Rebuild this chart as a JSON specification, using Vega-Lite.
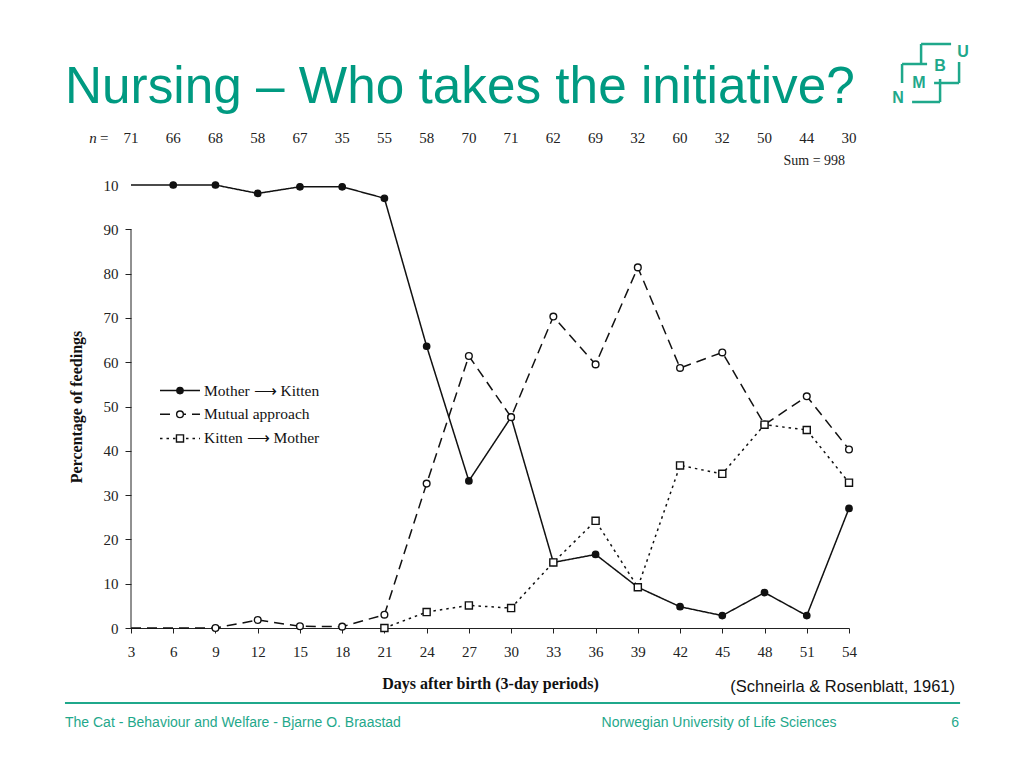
{
  "$schema": "https://vega.github.io/schema/vega-lite/v6.json",
  "width": 718,
  "height": 443,
  "autosize": {"type": "none"},
  "padding": {"left": 131, "top": 185, "right": 175, "bottom": 140},
  "background": "white",
  "config": {"view": {"stroke": null}},
  "datasets": {
    "feedings": [
      {"series": "Mother → Kitten", "day": 3, "pct": 100},
      {"series": "Mother → Kitten", "day": 6, "pct": 100},
      {"series": "Mother → Kitten", "day": 9, "pct": 100},
      {"series": "Mother → Kitten", "day": 12, "pct": 98.1},
      {"series": "Mother → Kitten", "day": 15, "pct": 99.6},
      {"series": "Mother → Kitten", "day": 18, "pct": 99.6},
      {"series": "Mother → Kitten", "day": 21, "pct": 97.0},
      {"series": "Mother → Kitten", "day": 24, "pct": 63.6},
      {"series": "Mother → Kitten", "day": 27, "pct": 33.2},
      {"series": "Mother → Kitten", "day": 30, "pct": 47.6},
      {"series": "Mother → Kitten", "day": 33, "pct": 14.8},
      {"series": "Mother → Kitten", "day": 36, "pct": 16.6},
      {"series": "Mother → Kitten", "day": 39, "pct": 9.2},
      {"series": "Mother → Kitten", "day": 42, "pct": 4.8},
      {"series": "Mother → Kitten", "day": 45, "pct": 2.8},
      {"series": "Mother → Kitten", "day": 48, "pct": 8.0},
      {"series": "Mother → Kitten", "day": 51, "pct": 2.8},
      {"series": "Mother → Kitten", "day": 54, "pct": 27.0},
      {"series": "Mutual approach", "day": 3, "pct": 0},
      {"series": "Mutual approach", "day": 6, "pct": 0},
      {"series": "Mutual approach", "day": 9, "pct": 0},
      {"series": "Mutual approach", "day": 12, "pct": 1.8},
      {"series": "Mutual approach", "day": 15, "pct": 0.4},
      {"series": "Mutual approach", "day": 18, "pct": 0.3},
      {"series": "Mutual approach", "day": 21, "pct": 3.0},
      {"series": "Mutual approach", "day": 24, "pct": 32.6},
      {"series": "Mutual approach", "day": 27, "pct": 61.4},
      {"series": "Mutual approach", "day": 30, "pct": 47.6},
      {"series": "Mutual approach", "day": 33, "pct": 70.3},
      {"series": "Mutual approach", "day": 36, "pct": 59.5},
      {"series": "Mutual approach", "day": 39, "pct": 81.4},
      {"series": "Mutual approach", "day": 42, "pct": 58.7},
      {"series": "Mutual approach", "day": 45, "pct": 62.2},
      {"series": "Mutual approach", "day": 48, "pct": 45.9},
      {"series": "Mutual approach", "day": 51, "pct": 52.3},
      {"series": "Mutual approach", "day": 54, "pct": 40.3},
      {"series": "Kitten → Mother", "day": 21, "pct": 0},
      {"series": "Kitten → Mother", "day": 24, "pct": 3.6},
      {"series": "Kitten → Mother", "day": 27, "pct": 5.1},
      {"series": "Kitten → Mother", "day": 30, "pct": 4.5},
      {"series": "Kitten → Mother", "day": 33, "pct": 14.8},
      {"series": "Kitten → Mother", "day": 36, "pct": 24.2},
      {"series": "Kitten → Mother", "day": 39, "pct": 9.2},
      {"series": "Kitten → Mother", "day": 42, "pct": 36.7},
      {"series": "Kitten → Mother", "day": 45, "pct": 34.8},
      {"series": "Kitten → Mother", "day": 48, "pct": 45.9},
      {"series": "Kitten → Mother", "day": 51, "pct": 44.7},
      {"series": "Kitten → Mother", "day": 54, "pct": 32.8}
    ],
    "counts": [
      {"day": 3, "n": 71}, {"day": 6, "n": 66}, {"day": 9, "n": 68},
      {"day": 12, "n": 58}, {"day": 15, "n": 67}, {"day": 18, "n": 35},
      {"day": 21, "n": 55}, {"day": 24, "n": 58}, {"day": 27, "n": 70},
      {"day": 30, "n": 71}, {"day": 33, "n": 62}, {"day": 36, "n": 69},
      {"day": 39, "n": 32}, {"day": 42, "n": 60}, {"day": 45, "n": 32},
      {"day": 48, "n": 50}, {"day": 51, "n": 44}, {"day": 54, "n": 30}
    ]
  },
  "layer": [
    {
      "data": {"name": "feedings"},
      "mark": {"type": "line", "color": "#111111", "strokeWidth": 1.5},
      "encoding": {
        "x": {
          "field": "day", "type": "quantitative",
          "scale": {"domain": [3, 54], "nice": false, "zero": false},
          "axis": {
            "values": [3, 6, 9, 12, 15, 18, 21, 24, 27, 30, 33, 36, 39, 42, 45, 48, 51, 54],
            "title": "Days after birth (3-day periods)",
            "titleFont": "Liberation Serif", "titleFontSize": 16, "titleFontWeight": "bold",
            "titleColor": "#111111", "titlePadding": 16,
            "labelFont": "Liberation Serif", "labelFontSize": 15, "labelColor": "#222222",
            "labelPadding": 11, "labelFlush": false, "labelOverlap": false,
            "tickSize": 5, "tickColor": "#222222", "domainColor": "#222222", "grid": false
          }
        },
        "y": {
          "field": "pct", "type": "quantitative",
          "scale": {"domain": [0, 100], "nice": false},
          "axis": {
            "values": [0, 10, 20, 30, 40, 50, 60, 70, 80, 90, 100],
            "labelExpr": "datum.value === 100 ? '10' : datum.label",
            "tickOpacity": {"condition": {"test": "datum.value === 100", "value": 0}, "value": 1},
            "domain": false,
            "title": "Percentage of feedings",
            "titleFont": "Liberation Serif", "titleFontSize": 16, "titleFontWeight": "bold",
            "titleColor": "#111111", "titlePadding": 19,
            "labelFont": "Liberation Serif", "labelFontSize": 15, "labelColor": "#222222",
            "labelPadding": 7,
            "tickSize": 6, "tickColor": "#222222", "grid": false
          }
        },
        "strokeDash": {
          "field": "series", "type": "nominal",
          "scale": {"domain": ["Mother → Kitten", "Mutual approach", "Kitten → Mother"], "range": [[1, 0], [10, 6], [2.5, 4]]},
          "legend": null
        },
        "order": {"field": "day"}
      }
    },
    {
      "data": {"values": [{}]},
      "mark": {"type": "rule", "color": "#222222", "strokeWidth": 1},
      "encoding": {
        "x": {"datum": 3, "type": "quantitative"},
        "y": {"datum": 0, "type": "quantitative"},
        "y2": {"datum": 90}
      }
    },
    {
      "data": {"name": "feedings"},
      "transform": [
        {"filter": "datum.series === 'Kitten → Mother' || (datum.series === 'Mother → Kitten' && datum.day >= 6) || (datum.series === 'Mutual approach' && datum.day >= 9)"}
      ],
      "mark": {"type": "point", "filled": true, "stroke": "#111111", "strokeWidth": 1.4, "opacity": 1},
      "encoding": {
        "x": {"field": "day", "type": "quantitative"},
        "y": {"field": "pct", "type": "quantitative"},
        "shape": {
          "field": "series", "type": "nominal",
          "scale": {"domain": ["Mother → Kitten", "Mutual approach", "Kitten → Mother"], "range": ["circle", "circle", "square"]},
          "legend": null
        },
        "fill": {
          "field": "series", "type": "nominal",
          "scale": {"domain": ["Mother → Kitten", "Mutual approach", "Kitten → Mother"], "range": ["#111111", "#ffffff", "#ffffff"]},
          "legend": null
        },
        "size": {
          "field": "series", "type": "nominal",
          "scale": {"domain": ["Mother → Kitten", "Mutual approach", "Kitten → Mother"], "range": [40, 50, 50]},
          "legend": null
        }
      }
    },
    {
      "data": {"name": "counts"},
      "mark": {"type": "text", "font": "Liberation Serif", "fontSize": 15, "color": "#222222", "baseline": "middle"},
      "encoding": {
        "x": {"field": "day", "type": "quantitative"},
        "y": {"datum": 110.6, "type": "quantitative"},
        "text": {"field": "n", "type": "quantitative"}
      }
    },
    {
      "data": {"values": [{}]},
      "layer": [
        {
          "mark": {"type": "text", "text": "n", "font": "Liberation Serif", "fontStyle": "italic", "fontSize": 15, "color": "#222222", "baseline": "middle"},
          "encoding": {"x": {"datum": 0.3, "type": "quantitative"}, "y": {"datum": 110.6, "type": "quantitative"}}
        },
        {
          "mark": {"type": "text", "text": "=", "font": "Liberation Serif", "fontSize": 15, "color": "#222222", "baseline": "middle"},
          "encoding": {"x": {"datum": 1.1, "type": "quantitative"}, "y": {"datum": 110.6, "type": "quantitative"}}
        },
        {
          "mark": {"type": "text", "text": "Sum = 998", "font": "Liberation Serif", "fontSize": 14, "color": "#222222", "baseline": "middle", "align": "right"},
          "encoding": {"x": {"datum": 53.72, "type": "quantitative"}, "y": {"datum": 105.4, "type": "quantitative"}}
        },
        {
          "mark": {"type": "text", "text": "Nursing – Who takes the initiative?", "font": "Liberation Sans", "fontSize": 51.3, "color": "#009a81", "baseline": "alphabetic", "align": "left"},
          "encoding": {"x": {"datum": -1.69, "type": "quantitative"}, "y": {"datum": 118.5, "type": "quantitative"}}
        }
      ]
    },
    {
      "data": {"values": [{"series": "Mother → Kitten", "label": "Mother ⟶ Kitten"}]},
      "encoding": {"y": {"datum": 53.6, "type": "quantitative"}},
      "layer": [
        {
          "mark": {"type": "rule", "color": "#111111", "strokeWidth": 1.5},
          "encoding": {
            "x": {"datum": 5.06, "type": "quantitative"}, "x2": {"datum": 7.9},
            "strokeDash": {"field": "series", "type": "nominal", "legend": null}
          }
        },
        {
          "mark": {"type": "point", "filled": true, "stroke": "#111111", "strokeWidth": 1.4, "opacity": 1},
          "encoding": {
            "x": {"datum": 6.48, "type": "quantitative"},
            "shape": {"field": "series", "type": "nominal", "legend": null},
            "fill": {"field": "series", "type": "nominal", "legend": null},
            "size": {"field": "series", "type": "nominal", "legend": null}
          }
        },
        {
          "mark": {"type": "text", "font": "Liberation Serif", "fontSize": 15.5, "color": "#111111", "baseline": "middle", "align": "left"},
          "encoding": {"x": {"datum": 8.19, "type": "quantitative"}, "text": {"field": "label"}}
        }
      ]
    },
    {
      "data": {"values": [{"series": "Mutual approach", "label": "Mutual approach"}]},
      "encoding": {"y": {"datum": 48.24, "type": "quantitative"}},
      "layer": [
        {
          "mark": {"type": "rule", "color": "#111111", "strokeWidth": 1.5},
          "encoding": {
            "x": {"datum": 5.06, "type": "quantitative"}, "x2": {"datum": 7.9},
            "strokeDash": {"field": "series", "type": "nominal", "legend": null}
          }
        },
        {
          "mark": {"type": "point", "filled": true, "stroke": "#111111", "strokeWidth": 1.4, "opacity": 1},
          "encoding": {
            "x": {"datum": 6.48, "type": "quantitative"},
            "shape": {"field": "series", "type": "nominal", "legend": null},
            "fill": {"field": "series", "type": "nominal", "legend": null},
            "size": {"field": "series", "type": "nominal", "legend": null}
          }
        },
        {
          "mark": {"type": "text", "font": "Liberation Serif", "fontSize": 15.5, "color": "#111111", "baseline": "middle", "align": "left"},
          "encoding": {"x": {"datum": 8.19, "type": "quantitative"}, "text": {"field": "label"}}
        }
      ]
    },
    {
      "data": {"values": [{"series": "Kitten → Mother", "label": "Kitten ⟶ Mother"}]},
      "encoding": {"y": {"datum": 42.8, "type": "quantitative"}},
      "layer": [
        {
          "mark": {"type": "rule", "color": "#111111", "strokeWidth": 1.5},
          "encoding": {
            "x": {"datum": 5.06, "type": "quantitative"}, "x2": {"datum": 7.9},
            "strokeDash": {"field": "series", "type": "nominal", "legend": null}
          }
        },
        {
          "mark": {"type": "point", "filled": true, "stroke": "#111111", "strokeWidth": 1.4, "opacity": 1},
          "encoding": {
            "x": {"datum": 6.48, "type": "quantitative"},
            "shape": {"field": "series", "type": "nominal", "legend": null},
            "fill": {"field": "series", "type": "nominal", "legend": null},
            "size": {"field": "series", "type": "nominal", "legend": null}
          }
        },
        {
          "mark": {"type": "text", "font": "Liberation Serif", "fontSize": 15.5, "color": "#111111", "baseline": "middle", "align": "left"},
          "encoding": {"x": {"datum": 8.19, "type": "quantitative"}, "text": {"field": "label"}}
        }
      ]
    },
    {
      "data": {"values": [{}]},
      "layer": [
        {
          "mark": {"type": "rule", "color": "#1fa88b", "strokeWidth": 2},
          "encoding": {
            "x": {"datum": -1.69, "type": "quantitative"}, "x2": {"datum": 61.89},
            "y": {"datum": -16.93, "type": "quantitative"}
          }
        },
        {
          "mark": {"type": "text", "text": "The Cat - Behaviour and Welfare - Bjarne O. Braastad", "font": "Liberation Sans", "fontSize": 14, "color": "#1fa88b", "baseline": "alphabetic", "align": "left"},
          "encoding": {"x": {"datum": -1.69, "type": "quantitative"}, "y": {"datum": -22.35, "type": "quantitative"}}
        },
        {
          "mark": {"type": "text", "text": "Norwegian University of Life Sciences", "font": "Liberation Sans", "fontSize": 14, "color": "#1fa88b", "baseline": "alphabetic", "align": "center"},
          "encoding": {"x": {"datum": 44.77, "type": "quantitative"}, "y": {"datum": -22.35, "type": "quantitative"}}
        },
        {
          "mark": {"type": "text", "text": "6", "font": "Liberation Sans", "fontSize": 14, "color": "#1fa88b", "baseline": "alphabetic", "align": "right"},
          "encoding": {"x": {"datum": 61.82, "type": "quantitative"}, "y": {"datum": -22.35, "type": "quantitative"}}
        },
        {
          "mark": {"type": "text", "text": "(Schneirla & Rosenblatt, 1961)", "font": "Liberation Sans", "fontSize": 16.5, "color": "#111111", "baseline": "alphabetic", "align": "right"},
          "encoding": {"x": {"datum": 61.53, "type": "quantitative"}, "y": {"datum": -14.45, "type": "quantitative"}}
        },
        {
          "mark": {"type": "point", "shape": "M-0.333,-0.967H0.667M-0.333,-0.967V-0.3M-0.967,-0.3H-0.133M-0.967,-0.3V0.333M0.933,-0.367V0.333M0.1,0.333H0.933M0.3,0.2V0.967M-0.633,0.967H0.3", "size": 3600, "filled": false, "stroke": "#1fa88b", "strokeWidth": 2.5, "opacity": 1},
          "encoding": {"x": {"datum": 59.83, "type": "quantitative"}, "y": {"datum": 125.28, "type": "quantitative"}}
        },
        {
          "mark": {"type": "text", "text": "N", "font": "Liberation Sans", "fontWeight": "bold", "fontSize": 16, "color": "#1fa88b", "baseline": "middle", "align": "center"},
          "encoding": {"x": {"datum": 57.48, "type": "quantitative"}, "y": {"datum": 119.64, "type": "quantitative"}}
        },
        {
          "mark": {"type": "text", "text": "M", "font": "Liberation Sans", "fontWeight": "bold", "fontSize": 16, "color": "#1fa88b", "baseline": "middle", "align": "center"},
          "encoding": {"x": {"datum": 58.97, "type": "quantitative"}, "y": {"datum": 123.0, "type": "quantitative"}}
        },
        {
          "mark": {"type": "text", "text": "B", "font": "Liberation Sans", "fontWeight": "bold", "fontSize": 16, "color": "#1fa88b", "baseline": "middle", "align": "center"},
          "encoding": {"x": {"datum": 60.47, "type": "quantitative"}, "y": {"datum": 126.86, "type": "quantitative"}}
        },
        {
          "mark": {"type": "text", "text": "U", "font": "Liberation Sans", "fontWeight": "bold", "fontSize": 16, "color": "#1fa88b", "baseline": "middle", "align": "center"},
          "encoding": {"x": {"datum": 62.1, "type": "quantitative"}, "y": {"datum": 130.0, "type": "quantitative"}}
        }
      ]
    }
  ]
}
